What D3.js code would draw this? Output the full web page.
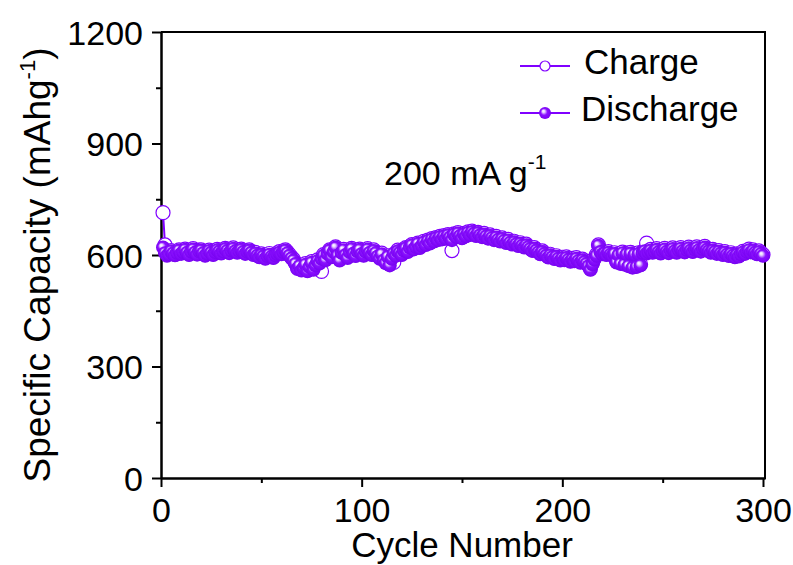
<!DOCTYPE html>
<html>
<head>
<meta charset="utf-8">
<script src="https://cdn.jsdelivr.net/npm/d3@7"></script>
<style>
  body { margin: 0; background: #fff; }
  svg { display: block; font-family: "Liberation Sans", Arial, sans-serif; }
</style>
</head>
<body>
<svg width="793" height="565"></svg>
<script>
// DATA
var xTicks = [0, 100, 200, 300];
var xMinor = [50, 150, 250];
var yTicks = [0, 300, 600, 900, 1200];
var yMinor = [150, 450, 750, 1050];

var charge = [
    714, 627, 606, 603, 612, 607, 602, 609, 614, 606,
    611, 616, 609, 603, 612, 617, 610, 604, 613, 614,
    608, 601, 607, 613, 609, 603, 611, 615, 612, 607,
    613, 618, 614, 608, 615, 619, 613, 609, 614, 616,
    611, 606, 612, 614, 609, 603, 607, 601, 597, 603,
    599, 593, 600, 604, 598, 595, 602, 606, 609, 605,
    611, 614, 608, 601, 594, 588, 579, 566, 573, 562,
    568, 577, 560, 571, 582, 564, 575, 587, 580, 556,
    601, 590, 606, 614, 597, 611, 622, 601, 589, 609,
    615, 603, 596, 611, 618, 607, 600, 613, 616, 606,
    601, 612, 617, 609, 603, 614, 608, 599, 594, 605,
    589, 582, 598, 576, 593, 580, 601, 613, 609, 603,
    615, 620, 611, 623, 628, 618, 625, 632, 622, 628,
    637, 630, 640, 634, 644, 639, 647, 643, 650, 645,
    652, 647, 655, 650, 612, 657, 652, 660, 654, 648,
    658, 653, 662, 657, 664, 660, 654, 661, 656, 651,
    658, 653, 647, 654, 649, 643, 650, 644, 639, 646,
    641, 635, 642, 636, 631, 637, 632, 627, 633, 628,
    623, 629, 624, 619, 614, 620, 615, 610, 605, 611,
    606, 601, 596, 602, 597, 592, 598, 593, 588, 594,
    589, 595, 590, 585, 591, 586, 593, 587, 582, 589,
    584, 579, 573, 563, 578, 591, 601, 627, 611, 605,
    607, 603, 609, 604, 601, 606, 583, 603, 579, 608,
    577, 605, 573, 607, 569, 604, 571, 606, 575, 609,
    613, 632, 611, 615, 609, 613, 617, 611, 607, 614,
    618, 612, 608, 615, 619, 613, 609, 616, 620, 614,
    610, 617, 621, 615, 611, 618, 622, 616, 612, 619,
    623, 617, 613, 609, 615, 611, 606, 612, 607, 603,
    609, 604, 600, 606, 601, 597, 603, 599, 605, 610,
    606, 612, 616, 610, 614, 609, 605, 611, 606, 601
];

var discharge = [
    620, 605, 598, 602, 610, 604, 599, 606, 612, 603,
    608, 614, 606, 600, 609, 615, 607, 601, 610, 612,
    605, 598, 604, 611, 606, 600, 608, 613, 609, 604,
    610, 616, 611, 605, 612, 617, 610, 606, 611, 614,
    608, 603, 609, 612, 606, 600, 604, 598, 594, 600,
    596, 590, 597, 601, 595, 592, 599, 603, 606, 602,
    608, 612, 605, 598, 591, 585, 576, 562, 570, 558,
    565, 574, 556, 568, 579, 560, 572, 584, 577, 590,
    598, 586, 603, 612, 594, 608, 620, 598, 585, 606,
    613, 600, 592, 608, 616, 604, 597, 610, 614, 603,
    598, 609, 615, 606, 600, 611, 605, 596, 590, 602,
    585, 578, 595, 572, 590, 604, 598, 610, 606, 600,
    612, 618, 608, 620, 626, 615, 622, 630, 619, 625,
    634, 627, 638, 631, 642, 636, 645, 640, 648, 642,
    650, 644, 653, 647, 640, 655, 649, 658, 651, 645,
    656, 650, 660, 654, 662, 657, 651, 659, 653, 648,
    655, 650, 644, 651, 646, 640, 647, 641, 636, 643,
    638, 632, 639, 633, 628, 634, 629, 624, 630, 625,
    620, 626, 621, 616, 611, 617, 612, 607, 602, 608,
    603, 598, 593, 599, 594, 589, 595, 590, 585, 591,
    586, 592, 587, 582, 588, 583, 590, 584, 579, 586,
    581, 576, 570, 560, 575, 588, 598, 625, 608, 602,
    604, 600, 606, 601, 598, 603, 580, 600, 576, 605,
    574, 602, 570, 604, 566, 601, 568, 603, 572, 606,
    610, 604, 608, 612, 606, 610, 614, 608, 604, 611,
    615, 609, 605, 612, 616, 610, 606, 613, 617, 611,
    607, 614, 618, 612, 608, 615, 619, 613, 609, 616,
    620, 614, 610, 606, 612, 608, 603, 609, 604, 600,
    606, 601, 597, 603, 598, 594, 600, 596, 602, 607,
    603, 609, 613, 607, 611, 606, 602, 608, 603, 598
];

var seriesNames = ["Charge", "Discharge"];
var purple = "#8000ff";

var svg = d3.select("svg");
var plotLeft = 161, plotTop = 32, plotRight = 765, plotBottom = 478;

var xScale = d3.scaleLinear().domain([0, 301]).range([plotLeft, plotRight]);
var yScale = d3.scaleLinear().domain([0, 1200]).range([plotBottom, plotTop]);

// sphere look for the filled markers
var grad = svg.append("defs").append("radialGradient")
    .attr("id", "ball")
    .attr("cx", "50%").attr("cy", "50%").attr("r", "55%")
    .attr("fx", "35%").attr("fy", "32%");
grad.append("stop").attr("offset", "0%").attr("stop-color", "#ffffff");
grad.append("stop").attr("offset", "20%").attr("stop-color", "#e6d2ff");
grad.append("stop").attr("offset", "50%").attr("stop-color", "#8a10ff");
grad.append("stop").attr("offset", "100%").attr("stop-color", "#7400ee");

// axes
var xAxis = svg.append("g")
    .attr("transform", "translate(0," + plotBottom + ")")
    .call(d3.axisBottom(xScale).tickValues(xTicks).tickFormat(d3.format("d"))
        .tickSize(9).tickPadding(4).tickSizeOuter(0));
var xAxisMinor = svg.append("g")
    .attr("transform", "translate(0," + plotBottom + ")")
    .call(d3.axisBottom(xScale).tickValues(xMinor).tickSize(5).tickFormat("").tickSizeOuter(0));

var yAxis = svg.append("g")
    .attr("transform", "translate(" + plotLeft + ",0)")
    .call(d3.axisLeft(yScale).tickValues(yTicks).tickFormat(d3.format("d"))
        .tickSize(9).tickPadding(9).tickSizeOuter(0));
var yAxisMinor = svg.append("g")
    .attr("transform", "translate(" + plotLeft + ",0)")
    .call(d3.axisLeft(yScale).tickValues(yMinor).tickSize(5).tickFormat("").tickSizeOuter(0));

[xAxis, xAxisMinor, yAxis, yAxisMinor].forEach(function (a) {
    a.selectAll("path, line").attr("stroke", "#000").attr("stroke-width", 2);
    a.selectAll("text").attr("fill", "#000").attr("font-size", "34px")
        .attr("font-family", "Liberation Sans, Arial, sans-serif");
});
xAxis.selectAll("text").attr("dy", "0.9em");
yAxis.selectAll("text").attr("dy", "0.36em");

// top and right frame
svg.append("line")
    .attr("x1", plotLeft).attr("x2", plotRight).attr("y1", plotTop).attr("y2", plotTop)
    .attr("stroke", "#000").attr("stroke-width", 2);
svg.append("line")
    .attr("x1", plotRight).attr("x2", plotRight).attr("y1", plotTop - 1).attr("y2", plotBottom + 1)
    .attr("stroke", "#000").attr("stroke-width", 2);

// axis titles
svg.append("text")
    .attr("x", 462)
    .attr("y", 557)
    .attr("text-anchor", "middle")
    .attr("font-size", "35px")
    .text("Cycle Number");

var yTitle = svg.append("text")
    .attr("transform", "translate(50,265) rotate(-90)")
    .attr("text-anchor", "middle")
    .attr("font-size", "37px");
yTitle.append("tspan").text("Specific Capacity (mAhg");
yTitle.append("tspan").attr("font-size", "22px").attr("dy", -15).text("-1");
yTitle.append("tspan").attr("dy", 15).text(")");

// current density note
var note = svg.append("text")
    .attr("x", 384)
    .attr("y", 185)
    .attr("font-size", "34px");
note.append("tspan").text("200 mA g");
note.append("tspan").attr("font-size", "21px").attr("dy", -16).text("-1");

// series
var line = d3.line()
    .x(function (d, i) { return xScale(i + 1); })
    .y(function (d) { return yScale(d); });

svg.append("path")
    .datum(charge)
    .attr("d", line)
    .attr("fill", "none")
    .attr("stroke", purple)
    .attr("stroke-width", 2);

svg.selectAll(".charge")
    .data(charge)
    .enter().append("circle")
    .attr("class", "charge")
    .attr("cx", function (d, i) { return xScale(i + 1); })
    .attr("cy", function (d) { return yScale(d); })
    .attr("r", 7)
    .attr("fill", "#fff")
    .attr("stroke", purple)
    .attr("stroke-width", 1.2);

svg.append("path")
    .datum(discharge)
    .attr("d", line)
    .attr("fill", "none")
    .attr("stroke", purple)
    .attr("stroke-width", 2);

svg.selectAll(".discharge")
    .data(discharge)
    .enter().append("circle")
    .attr("class", "discharge")
    .attr("cx", function (d, i) { return xScale(i + 1); })
    .attr("cy", function (d) { return yScale(d); })
    .attr("r", 7)
    .attr("fill", "url(#ball)");

// legend
var legend = svg.selectAll(".legend")
    .data(seriesNames)
    .enter().append("g")
    .attr("class", "legend")
    .attr("transform", function (d, i) { return "translate(520," + (66 + i * 47) + ")"; });

legend.append("line")
    .attr("x1", 0).attr("x2", 50)
    .attr("stroke", purple).attr("stroke-width", 2);

legend.append("circle")
    .attr("cx", 25)
    .attr("r", function (d, i) { return i == 0 ? 5 : 6; })
    .attr("fill", function (d, i) { return i == 0 ? "#fff" : "url(#ball)"; })
    .attr("stroke", function (d, i) { return i == 0 ? purple : "none"; })
    .attr("stroke-width", 1.2);

legend.append("text")
    .attr("x", function (d, i) { return i == 0 ? 64 : 61; })
    .attr("y", 8)
    .attr("font-size", "35px")
    .text(function (d) { return d; });
</script>
</body>
</html>
